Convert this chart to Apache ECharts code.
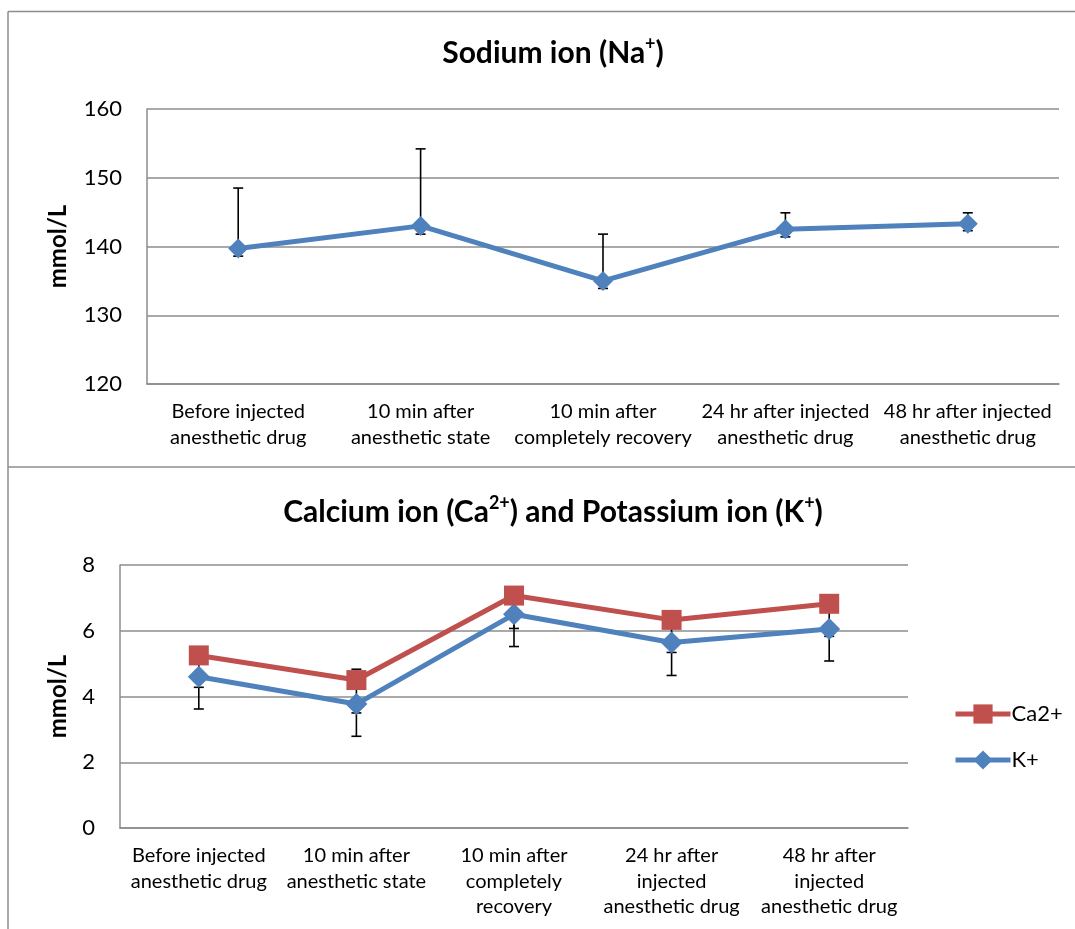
<!DOCTYPE html>
<html>
<head>
<meta charset="utf-8">
<script src="https://cdn.jsdelivr.net/npm/echarts@6/dist/echarts.min.js"></script>
<style>
html,body{margin:0;padding:0;background:#fff;}
#chart{width:1075px;height:929px;}
</style>
</head>
<body>
<div id="chart"></div>
<script>
// ---- data ----
const naCategories = ['Before injected\nanesthetic drug', '10 min after\nanesthetic state', '10 min after\ncompletely recovery', '24 hr after injected\nanesthetic drug', '48 hr after injected\nanesthetic drug'];
const ionCategories = ['Before injected\nanesthetic drug', '10 min after\nanesthetic state', '10 min after\ncompletely\nrecovery', '24 hr after\ninjected\nanesthetic drug', '48 hr after\ninjected\nanesthetic drug'];
const naValues = [139.7, 143.0, 135.0, 142.5, 143.3];
const naErrLow = [138.6, 141.8, 133.9, 141.4, 142.3];
const naErrHigh = [148.5, 154.2, 141.8, 144.9, 144.9];
const caValues = [5.25, 4.50, 7.07, 6.33, 6.82];
const caErrLow = [4.28, 3.50, 6.07, 5.34, 5.83];
const caErrHigh = [5.25, 4.83, 7.07, 6.33, 6.82];
const kValues = [4.60, 3.77, 6.50, 5.64, 6.05];
const kErrLow = [3.62, 2.79, 5.52, 4.64, 5.08];
const kErrHigh = [4.60, 3.77, 6.50, 5.64, 6.05];
const naTicks = {min: 120, max: 160, interval: 10};
const ionTicks = {min: 0, max: 8, interval: 2};

const FONT = 'Lato';
const GRID_COLOR = '#8c8c8c';
const BLUE = '#4f81bd';
const RED = '#c0504d';

function errData(lo, hi) {
  return lo.map((v, i) => [i, v, hi[i]]);
}
function errRender(params, api) {
  const i = api.value(0);
  const p1 = api.coord([i, api.value(1)]);
  const p2 = api.coord([i, api.value(2)]);
  const w = 5;
  const st = {stroke: '#000', lineWidth: 1.6};
  return {
    type: 'group',
    children: [
      {type: 'line', shape: {x1: p1[0], y1: p1[1], x2: p2[0], y2: p2[1]}, style: st},
      {type: 'line', shape: {x1: p1[0] - w, y1: p1[1], x2: p1[0] + w, y2: p1[1]}, style: st},
      {type: 'line', shape: {x1: p2[0] - w, y1: p2[1], x2: p2[0] + w, y2: p2[1]}, style: st}
    ]
  };
}

const yAxisCommon = {
  type: 'value',
  nameLocation: 'middle',
  nameRotate: 90,
  nameTextStyle: {fontFamily: FONT, fontWeight: 'bold', fontSize: 24, color: '#000'},
  axisLine: {show: true, lineStyle: {color: GRID_COLOR, width: 1.5}},
  axisTick: {show: false},
  axisLabel: {fontFamily: FONT, fontSize: 22, color: '#000', margin: 25},
  splitLine: {lineStyle: {color: GRID_COLOR, width: 1.5}}
};
const xAxisCommon = {
  type: 'category',
  boundaryGap: true,
  axisLine: {show: true, lineStyle: {color: GRID_COLOR, width: 1.5}},
  axisTick: {show: false},
  axisLabel: {fontFamily: FONT, fontSize: 20, color: '#000', lineHeight: 25.5, margin: 15, interval: 0}
};

const titleStyle = {
  fontFamily: FONT, fontWeight: 'bold', fontSize: 30, color: '#000', lineHeight: 36,
  rich: {sup: {fontFamily: FONT, fontWeight: 'bold', fontSize: 18, verticalAlign: 'top', lineHeight: 36, padding: [0, 0, 14, 0]}}
};

const chart = echarts.init(document.getElementById('chart'), null, {renderer: 'canvas'});
chart.setOption({
  animation: false,
  backgroundColor: '#fff',
  title: [
    {text: 'Sodium ion (Na{sup|+})', left: 548, top: 30, textAlign: 'center', textStyle: titleStyle},
    {text: 'Calcium ion (Ca{sup|2+}) and Potassium ion (K{sup|+})', left: 548, top: 489, textAlign: 'center', textStyle: titleStyle}
  ],
  legend: {
    data: ['Ca2+', 'K+'],
    orient: 'vertical',
    left: 948, top: 698,
    itemWidth: 55, itemHeight: 24, itemGap: 24,
    lineStyle: {width: 5},
    textStyle: {fontFamily: FONT, fontSize: 22, color: '#000', padding: [0, 0, 0, -4]}
  },
  grid: [
    {left: 147, top: 109, width: 912, height: 275},
    {left: 120, top: 565, width: 788, height: 263}
  ],
  xAxis: [
    Object.assign({}, xAxisCommon, {gridIndex: 0, data: naCategories}),
    Object.assign({}, xAxisCommon, {gridIndex: 1, data: ionCategories})
  ],
  yAxis: [
    Object.assign({}, yAxisCommon, {gridIndex: 0, name: 'mmol/L', nameGap: 77}, naTicks),
    Object.assign({}, yAxisCommon, {gridIndex: 1, name: 'mmol/L', nameGap: 50}, ionTicks)
  ],
  series: [
    {type: 'custom', name: 'naErr', xAxisIndex: 0, yAxisIndex: 0, z: 1, renderItem: errRender,
      encode: {x: 0, y: [1, 2]}, data: errData(naErrLow, naErrHigh)},
    {type: 'custom', name: 'caErr', xAxisIndex: 1, yAxisIndex: 1, z: 1, renderItem: errRender,
      encode: {x: 0, y: [1, 2]}, data: errData(caErrLow, caErrHigh)},
    {type: 'custom', name: 'kErr', xAxisIndex: 1, yAxisIndex: 1, z: 1, renderItem: errRender,
      encode: {x: 0, y: [1, 2]}, data: errData(kErrLow, kErrHigh)},
    {type: 'line', name: 'Na+', xAxisIndex: 0, yAxisIndex: 0, z: 3, data: naValues,
      symbol: 'diamond', symbolSize: 20, lineStyle: {color: BLUE, width: 5}, itemStyle: {color: BLUE}},
    {type: 'line', name: 'K+', xAxisIndex: 1, yAxisIndex: 1, z: 3, data: kValues,
      symbol: 'diamond', symbolSize: 22, lineStyle: {color: BLUE, width: 5}, itemStyle: {color: BLUE}},
    {type: 'line', name: 'Ca2+', xAxisIndex: 1, yAxisIndex: 1, z: 4, data: caValues,
      symbol: 'rect', symbolSize: 20, lineStyle: {color: RED, width: 5}, itemStyle: {color: RED}}
  ],
  graphic: [
    {type: 'line', shape: {x1: 8, y1: 11.5, x2: 1075, y2: 11.5}, style: {stroke: GRID_COLOR, lineWidth: 1.5}, silent: true},
    {type: 'line', shape: {x1: 8, y1: 467, x2: 1075, y2: 467}, style: {stroke: GRID_COLOR, lineWidth: 1.5}, silent: true},
    {type: 'line', shape: {x1: 8, y1: 11.5, x2: 8, y2: 929}, style: {stroke: GRID_COLOR, lineWidth: 1.5}, silent: true}
  ]
});
</script>
</body>
</html>
